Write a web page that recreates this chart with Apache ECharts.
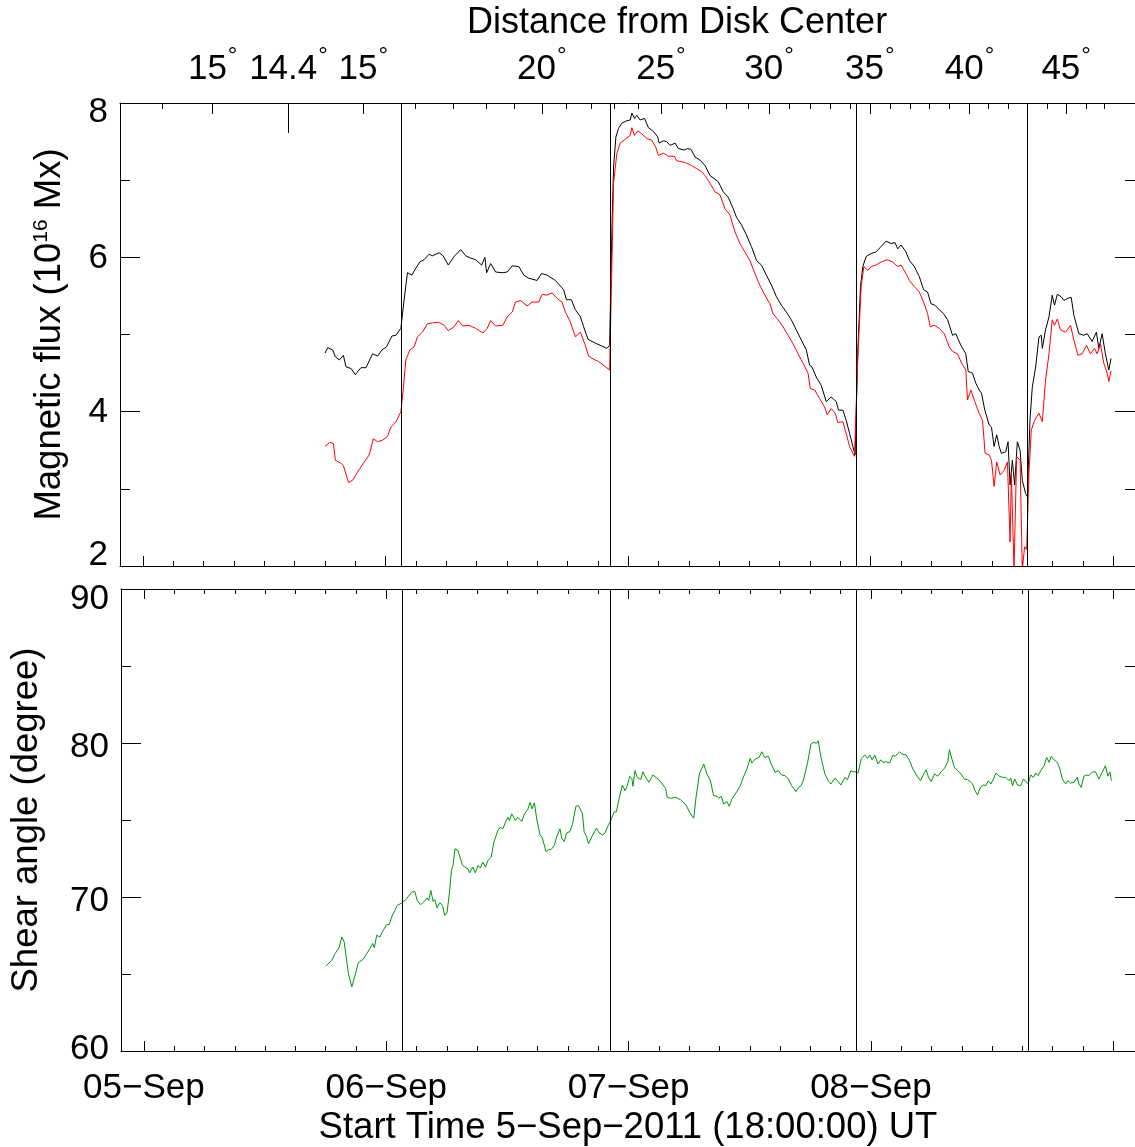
<!DOCTYPE html>
<html>
<head>
<meta charset="utf-8">
<script src="https://cdn.jsdelivr.net/npm/echarts@6/dist/echarts.min.js"></script>
<style>
  html, body { margin: 0; padding: 0; background: #fff; }
  #chart { width: 1135px; height: 1147px; }
</style>
</head>
<body>
<div id="chart"></div>
<script>
// hours counted from 2011-09-05 00:00 UT
const X_MIN = -2.27
const X_MAX = 98.15

const dayTickHours = [0, 24, 48, 72, 96]
const dayLabelHours = [0, 24, 48, 72]
const dayLabels = ['05−Sep', '06−Sep', '07−Sep', '08−Sep']
const minorHours = [3, 6, 9, 12, 15, 18, 21, 27, 30, 33, 36, 39, 42, 45, 51, 54, 57, 60, 63, 66, 69, 75, 78, 81, 84, 87, 90, 93]

// distance from disk center (top axis)
const degreeLabelHours = [6.9, 14.4, 21.8, 39.46, 51.25, 61.95, 71.91, 81.78, 91.34]
const degreeLabels = ['15', '14.4', '15', '20', '25', '30', '35', '40', '45']
const degreeMajorHours = [6.9, 21.8, 39.46, 51.25, 61.95, 71.91, 81.78, 91.34]
const degreeMinorHours = [1.87, 26.93, 30.68, 33.93, 36.7, 41.92, 44.39, 46.66, 48.98, 53.37, 55.54, 57.71, 59.88,
  63.92, 65.98, 67.96, 69.99, 73.94, 75.96, 77.83, 79.8, 83.65, 85.62, 87.53, 89.47, 93.32, 95.14]
const minimumHours = [14.4]

// flare times
const flareHours = [25.58, 46.2, 70.53, 87.53]

// total unsigned flux (black)
const blackHours = [18.02, 18.28, 18.77, 19.04, 19.43, 19.83, 20.09, 20.59, 21.01, 21.57, 22.07, 22.72, 23.21, 23.65, 24.10,
  24.63, 25.03, 25.52, 25.84, 26.17, 26.60, 27.00, 27.39, 27.82, 28.31, 28.64, 29.30, 29.69, 30.21, 30.78, 31.44, 31.93,
  32.42, 32.92, 33.51, 33.83, 34.00, 34.40, 34.89, 35.54, 36.04, 36.53, 37.19, 37.68, 38.17, 38.99, 39.43, 39.98, 40.81,
  41.63, 41.89, 42.39, 42.78, 43.28, 43.60, 44.03, 44.42, 44.91, 45.41, 45.90, 46.17,
  46.39, 46.56, 46.79, 47.05, 47.38, 47.87, 48.21, 48.37, 48.63, 48.86, 49.19, 49.62, 50.01, 50.51, 50.93, 51.07, 51.49,
  51.82, 52.15, 52.65, 52.97, 53.56, 53.89, 54.22, 54.62, 55.11, 55.61, 56.10, 56.52, 56.92, 57.41, 57.90, 58.40, 58.72,
  59.22, 59.71, 60.20, 60.70, 61.19, 61.68, 62.18, 62.67, 63.16, 63.66, 64.15, 64.64, 65.13, 65.63, 65.96, 66.19, 66.61,
  67.11, 67.60, 68.09, 68.59, 68.82, 69.25, 69.57, 69.91, 70.23, 70.46,
  70.73, 70.99, 71.22, 71.55, 72.04, 72.53, 73.03, 73.52, 74.01, 74.41, 74.67, 75.00, 75.49, 75.83, 76.32, 76.81, 77.24,
  77.63, 77.96, 78.35, 78.79, 79.21, 79.61, 80.10, 80.42, 80.92, 81.41, 81.65, 82.07, 82.40, 82.73, 82.96, 83.29, 83.72,
  83.95, 84.21, 84.47, 84.71, 84.93, 85.36, 85.59, 85.79, 86.02, 86.24, 86.51, 86.78, 87.00, 87.33, 87.50,
  87.76, 87.99, 88.32, 88.65, 88.88, 88.98, 89.30, 89.64, 89.96, 90.19, 90.46, 90.85, 91.12, 91.51, 91.84, 92.10, 92.60,
  93.09, 93.42, 93.91, 94.33, 94.57, 94.90, 95.22, 95.56, 95.78]
const blackFlux = [4.76, 4.83, 4.80, 4.71, 4.67, 4.73, 4.58, 4.56, 4.48, 4.57, 4.57, 4.75, 4.72, 4.80, 4.84,
  4.98, 4.99, 5.08, 5.45, 5.80, 5.77, 5.86, 5.94, 5.97, 6.04, 6.02, 6.06, 6.02, 5.90, 6.01, 6.10, 6.02,
  5.99, 5.97, 5.90, 6.00, 5.80, 5.92, 5.81, 5.80, 5.81, 5.89, 5.88, 5.77, 5.73, 5.70, 5.79, 5.77, 5.70,
  5.58, 5.45, 5.45, 5.32, 5.23, 5.10, 4.94, 4.91, 4.88, 4.85, 4.82, 4.86,
  6.31, 7.17, 7.56, 7.67, 7.74, 7.77, 7.78, 7.87, 7.80, 7.84, 7.78, 7.80, 7.68, 7.63, 7.56, 7.48, 7.51,
  7.50, 7.45, 7.48, 7.41, 7.39, 7.41, 7.40, 7.30, 7.26, 7.19, 7.06, 7.02, 6.98, 6.85, 6.78, 6.63, 6.52,
  6.42, 6.29, 6.14, 5.96, 5.90, 5.77, 5.64, 5.49, 5.38, 5.29, 5.19, 5.06, 4.93, 4.80, 4.60, 4.58, 4.45,
  4.34, 4.13, 4.19, 4.13, 4.02, 4.02, 3.89, 3.72, 3.55, 3.44,
  4.80, 5.62, 5.88, 6.01, 6.05, 6.07, 6.14, 6.21, 6.18, 6.19, 6.11, 6.16, 6.07, 5.96, 5.88, 5.75, 5.58,
  5.55, 5.40, 5.38, 5.32, 5.27, 5.19, 4.99, 5.01, 4.86, 4.75, 4.52, 4.50, 4.37, 4.28, 4.24, 4.02, 3.83,
  3.80, 3.55, 3.70, 3.55, 3.46, 3.48, 3.61, 3.05, 3.37, 3.05, 3.61, 3.50, 3.11, 2.94, 2.90,
  3.89, 4.32, 4.58, 4.97, 4.99, 4.82, 5.06, 5.23, 5.51, 5.38, 5.52, 5.49, 5.44, 5.47, 5.48, 5.25, 5.01,
  4.99, 5.01, 4.91, 5.03, 4.82, 5.01, 4.75, 4.54, 4.69]

// red curve
const redHours = [18.02, 18.45, 18.84, 19.04, 19.60, 19.83, 20.35, 20.81, 21.24, 21.80, 22.39, 22.79, 23.21, 23.70, 24.20,
  24.53, 25.03, 25.52, 25.75, 26.01, 26.41, 26.83, 27.16, 27.65, 28.14, 28.64, 29.23, 29.79, 30.21, 30.78, 31.20, 31.66,
  32.26, 32.92, 33.64, 34.06, 34.40, 34.89, 35.61, 36.04, 36.53, 36.86, 37.36, 38.01, 38.50, 39.16, 39.49, 39.98, 40.47,
  40.97, 41.46, 41.80, 42.29, 42.78, 43.28, 43.77, 44.09, 44.59, 45.08, 45.67, 46.17,
  46.39, 46.56, 46.89, 47.22, 47.71, 48.21, 48.37, 48.63, 48.96, 49.35, 49.85, 50.34, 50.73, 51.00, 51.49, 51.98, 52.58,
  52.81, 53.30, 53.79, 54.28, 54.78, 55.27, 55.61, 56.10, 56.59, 57.09, 57.58, 58.07, 58.57, 59.06, 59.55, 60.05, 60.54,
  61.03, 61.53, 62.02, 62.34, 62.84, 63.33, 63.82, 64.32, 64.81, 65.30, 65.80, 66.02, 66.46, 66.95, 67.44, 67.70, 68.09,
  68.49, 68.75, 69.25, 69.57, 69.91, 70.40,
  70.73, 71.06, 71.32, 71.72, 72.04, 72.53, 73.03, 73.62, 74.18, 74.67, 75.00, 75.49, 75.83, 76.32, 76.81, 77.24, 77.63,
  77.89, 78.29, 78.79, 79.28, 79.77, 80.10, 80.59, 80.99, 81.41, 81.58, 81.91, 82.30, 82.73, 83.06, 83.32, 83.72, 83.95,
  84.21, 84.47, 84.80, 85.20, 85.53, 85.79, 85.92, 86.18, 86.44, 86.78, 87.00, 87.23, 87.43,
  87.67, 87.89, 88.22, 88.65, 88.98, 89.30, 89.64, 89.96, 90.19, 90.46, 90.78, 91.28, 91.77, 92.10, 92.50, 92.92, 93.35,
  93.74, 94.14, 94.40, 94.73, 95.06, 95.39, 95.56, 95.78]
const redFlux = [3.55, 3.60, 3.59, 3.37, 3.33, 3.30, 3.08, 3.12, 3.22, 3.33, 3.44, 3.65, 3.61, 3.63, 3.68,
  3.80, 3.87, 4.00, 4.28, 4.67, 4.80, 4.84, 4.97, 5.03, 5.14, 5.15, 5.16, 5.12, 5.05, 5.10, 5.18, 5.11,
  5.12, 5.08, 5.02, 5.08, 5.18, 5.11, 5.12, 5.23, 5.29, 5.42, 5.44, 5.37, 5.42, 5.42, 5.52, 5.51, 5.54,
  5.47, 5.42, 5.29, 5.16, 4.97, 5.03, 4.86, 4.72, 4.68, 4.65, 4.59, 4.54,
  5.88, 6.96, 7.35, 7.48, 7.53, 7.58, 7.68, 7.58, 7.64, 7.60, 7.54, 7.52, 7.43, 7.32, 7.35, 7.31, 7.31,
  7.25, 7.24, 7.22, 7.19, 7.15, 7.11, 7.06, 6.96, 6.85, 6.81, 6.63, 6.55, 6.33, 6.18, 6.07, 5.96, 5.79,
  5.64, 5.51, 5.40, 5.27, 5.19, 5.10, 4.99, 4.88, 4.75, 4.63, 4.50, 4.30, 4.28, 4.17, 4.06, 3.96, 4.04,
  3.98, 3.86, 3.87, 3.72, 3.55, 3.42,
  4.72, 5.62, 5.88, 5.83, 5.88, 5.90, 5.94, 5.97, 5.94, 5.88, 5.90, 5.79, 5.70, 5.62, 5.55, 5.42, 5.27,
  5.10, 5.12, 5.08, 5.01, 4.84, 4.78, 4.75, 4.63, 4.54, 4.15, 4.28, 4.13, 3.98, 3.89, 3.46, 3.44, 3.37,
  3.03, 3.35, 3.18, 3.24, 3.35, 2.31, 3.20, 1.95, 3.42, 3.37, 1.95, 2.25, 2.21,
  3.24, 3.76, 3.89, 3.98, 3.87, 4.41, 4.75, 5.19, 5.12, 5.20, 5.06, 5.03, 5.12, 4.93, 4.73, 4.75, 4.86,
  4.75, 4.82, 4.75, 4.88, 4.63, 4.50, 4.39, 4.53]

// shear angle (green)
const shearHours = [18.05, 18.61, 18.94, 19.36, 19.60, 19.83, 20.25, 20.59, 20.91, 21.24, 21.73, 22.07, 22.39, 22.66, 22.82,
  23.05, 23.38, 23.70, 24.04, 24.30, 24.53, 24.86, 25.09, 25.28, 25.62, 26.01, 26.51, 26.83, 27.06, 27.39, 27.72, 28.04,
  28.21, 28.41, 28.64, 28.80, 29.03, 29.30, 29.56, 29.79, 30.02, 30.28, 30.45, 30.61, 30.81, 31.10, 31.27, 31.54, 31.76,
  32.09, 32.26, 32.58, 32.82, 33.08, 33.31, 33.57, 33.83, 34.06, 34.40, 34.65, 35.05, 35.28, 35.54, 35.81, 36.04, 36.20,
  36.43, 36.79, 37.02, 37.42, 37.68, 38.01, 38.24, 38.44, 38.67, 38.90, 39.23, 39.43, 39.82, 40.08, 40.32, 40.64, 40.87,
  41.20, 41.40, 41.63, 41.86, 42.19, 42.45, 42.78, 43.04, 43.43, 43.60, 43.83, 44.03, 44.26, 44.42, 44.81, 45.08, 45.41,
  45.67, 45.90, 46.23, 46.56, 46.79, 47.05, 47.38, 47.65, 47.87, 48.11, 48.31, 48.43, 48.63, 48.86, 49.19, 49.42, 49.69,
  50.01, 50.41, 50.60, 51.00, 51.33, 51.66, 51.82, 52.15, 52.65, 53.14, 53.69, 54.03, 54.45, 54.68, 55.01, 55.44, 55.76,
  56.10, 56.26, 56.42, 56.75, 56.92, 57.18, 57.41, 57.74, 57.97, 58.23, 58.72, 59.06, 59.29, 59.71, 60.05, 60.20, 60.54,
  60.93, 61.19, 61.46, 61.85, 62.12, 62.24, 62.51, 62.84, 63.16, 63.50, 63.82, 64.15, 64.58, 64.81, 65.08, 65.30, 65.47,
  65.73, 66.06, 66.29, 66.46, 66.61, 66.78, 67.05, 67.44, 67.77, 68.03, 68.43, 68.69, 69.02, 69.42, 69.67, 70.01, 70.23,
  70.46, 70.73, 71.05, 71.39, 71.65, 71.88, 72.11, 72.38, 72.70, 72.97, 73.19, 73.52, 73.85, 74.18, 74.41, 74.61, 74.84,
  75.07, 75.49, 75.83, 76.15, 76.32, 76.58, 76.91, 77.14, 77.47, 77.70, 77.96, 78.29, 78.62, 78.95, 79.28, 79.61, 79.77,
  80.00, 80.27, 80.59, 80.92, 81.25, 81.58, 81.84, 82.07, 82.30, 82.56, 82.83, 83.16, 83.38, 83.62, 83.88, 84.14, 84.37,
  84.71, 85.03, 85.36, 85.69, 85.85, 86.02, 86.24, 86.51, 86.84, 87.10, 87.33, 87.57, 87.82, 88.09, 88.32, 88.55, 88.81,
  89.14, 89.40, 89.64, 89.86, 90.13, 90.46, 90.72, 90.95, 91.28, 91.51, 91.77, 92.10, 92.43, 92.60, 92.82, 93.09, 93.35,
  93.58, 93.91, 94.24, 94.57, 94.90, 95.22, 95.46, 95.66, 95.81]
const shearAngle = [65.53, 65.89, 66.33, 66.76, 67.41, 67.09, 65.03, 64.17, 64.92, 65.74, 65.96, 66.33, 66.65, 66.98, 66.70,
  67.51, 67.41, 67.84, 68.21, 68.21, 68.70, 69.13, 69.46, 69.35, 69.63, 69.89, 70.32, 70.36, 69.78, 69.50, 69.68, 69.94,
  69.78, 70.43, 69.71, 69.84, 69.29, 69.63, 69.46, 68.81, 68.98, 70.43, 71.72, 72.05, 73.13, 73.02, 73.02, 72.09, 71.94,
  71.83, 71.57, 71.94, 71.57, 72.05, 71.88, 72.27, 71.94, 72.37, 72.59, 73.56, 74.31, 74.53, 74.42, 74.86, 75.18, 74.96,
  75.40, 74.96, 75.18, 74.90, 75.40, 75.67, 76.15, 75.72, 76.11, 75.07, 74.03, 73.89, 72.95, 73.08, 73.08, 73.34, 73.89,
  74.42, 73.78, 73.60, 74.16, 74.25, 74.75, 75.89, 75.93, 75.40, 74.21, 73.95, 73.45, 73.78, 73.67, 74.47, 74.16, 74.03,
  74.16, 74.53, 74.96, 75.51, 75.54, 76.37, 77.27, 76.90, 77.23, 77.84, 77.71, 77.19, 78.20, 77.77, 77.62, 78.13, 77.77,
  77.45, 77.92, 77.92, 77.62, 77.34, 77.06, 76.48, 76.41, 76.48, 76.32, 75.98, 75.51, 75.12, 76.48, 77.99, 78.63, 77.99,
  77.55, 77.49, 76.58, 76.54, 76.41, 76.54, 76.04, 76.19, 75.89, 76.37, 76.84, 77.23, 77.66, 78.31, 79.00, 78.70, 78.96,
  79.07, 79.43, 79.07, 79.13, 78.63, 78.74, 78.10, 78.20, 77.92, 77.88, 77.66, 77.23, 76.84, 77.12, 77.23, 77.55, 77.55,
  78.74, 79.93, 80.04, 80.14, 79.99, 80.14, 79.07, 77.99, 77.55, 77.34, 77.71, 77.55, 77.27, 77.77, 77.62, 78.20, 78.13,
  78.13, 78.05, 79.00, 79.22, 79.00, 79.22, 78.91, 79.22, 78.63, 78.91, 78.74, 78.78, 78.70, 79.22, 79.13, 79.28, 79.43,
  79.28, 79.22, 78.85, 78.31, 78.42, 77.84, 77.55, 77.88, 78.26, 77.77, 77.49, 77.99, 77.84, 78.13, 78.35, 78.78, 79.56,
  79.00, 78.42, 78.20, 77.99, 77.66, 77.62, 77.49, 77.34, 76.90, 76.63, 77.12, 77.27, 77.23, 77.55, 77.34, 77.66, 78.05,
  77.84, 77.77, 77.77, 77.55, 77.71, 77.23, 77.66, 77.27, 77.23, 77.66, 77.49, 77.34, 77.92, 77.77, 78.05, 77.88, 78.20,
  78.52, 79.07, 78.74, 79.13, 78.91, 78.74, 78.31, 77.66, 77.34, 77.55, 77.40, 77.45, 77.77, 77.34, 77.12, 77.84, 77.92,
  77.88, 78.10, 78.13, 77.66, 78.10, 78.52, 77.84, 78.13, 77.55]

const FONT = '"Liberation Sans", Arial, Helvetica, sans-serif'
const INK = '#000'

function pairs (xs, ys) {
  return xs.map((x, i) => [x, ys[i]])
}

// one x axis on a grid; ticks only where asked
function timeAxis (gridIndex, position, tickValues, tickLength, extra) {
  return Object.assign({
    type: 'value',
    gridIndex,
    position,
    min: X_MIN,
    max: X_MAX,
    axisLine: { show: false, onZero: false, lineStyle: { color: INK, width: 1 } },
    axisTick: {
      show: true,
      inside: true,
      length: tickLength,
      customValues: tickValues,
      lineStyle: { color: INK, width: 1 }
    },
    axisLabel: { show: false },
    splitLine: { show: false }
  }, extra || {})
}

function valueAxis (gridIndex, position, min, max, interval, extra) {
  return Object.assign({
    type: 'value',
    gridIndex,
    position,
    min,
    max,
    interval,
    axisLine: { show: true, onZero: false, lineStyle: { color: INK, width: 1 } },
    axisTick: { show: true, inside: true, length: 20, lineStyle: { color: INK, width: 1 } },
    minorTick: { show: true, splitNumber: 2, length: 10, lineStyle: { color: INK, width: 1 } },
    axisLabel: { show: false },
    splitLine: { show: false },
    minorSplitLine: { show: false }
  }, extra || {})
}

// left labels: the end labels sit a little inside the frame
function sideLabels (top, bottom, shifts) {
  const rich = {}
  Object.keys(shifts).forEach((k) => {
    rich[k] = { fontSize: 35, fontFamily: FONT, color: INK, padding: shifts[k] }
  })
  return {
    show: true,
    margin: 12,
    fontSize: 35,
    fontFamily: FONT,
    color: INK,
    formatter: (v) => (v === top ? '{hi|' + v + '}' : v === bottom ? '{lo|' + v + '}' : '{mid|' + v + '}'),
    rich
  }
}

const flareMarks = {
  silent: true,
  symbol: ['none', 'none'],
  label: { show: false },
  lineStyle: { color: INK, width: 1, type: 'solid' },
  emphasis: { disabled: true },
  data: flareHours.map((h) => ({ xAxis: h }))
}

const frameLine = { show: true, onZero: false, lineStyle: { color: INK, width: 1 } }

const option = {
  animation: false,
  backgroundColor: '#fff',
  title: {
    text: 'Distance from Disk Center',
    left: 462,
    top: 0,
    textStyle: { fontSize: 36, fontWeight: 'normal', fontFamily: FONT, color: INK }
  },
  grid: [
    { left: 120, top: 103, width: 1018, height: 463 },
    { left: 120, top: 589, width: 1018, height: 463 }
  ],
  xAxis: [
    timeAxis(0, 'bottom', dayTickHours, 10, { axisLine: frameLine }),
    timeAxis(0, 'bottom', minorHours, 5),
    timeAxis(0, 'top', degreeMajorHours, 11, {
      axisLine: frameLine,
      axisLabel: {
        show: true,
        customValues: degreeLabelHours,
        margin: 24,
        fontSize: 35,
        fontFamily: FONT,
        color: INK,
        formatter: (v) => '{n|' + degreeLabels[degreeLabelHours.indexOf(v)] + '}{d|°}',
        rich: {
          n: { fontSize: 35, lineHeight: 35, fontFamily: FONT, color: INK, padding: [15, 0, 0, 0] },
          d: { fontSize: 24, lineHeight: 24, fontFamily: FONT, color: INK, verticalAlign: 'top', padding: [0, 0, 0, 1] }
        }
      }
    }),
    timeAxis(0, 'top', degreeMinorHours, 6),
    timeAxis(0, 'top', minimumHours, 30),
    timeAxis(1, 'bottom', dayTickHours, 10, {
      axisLine: frameLine,
      axisLabel: {
        show: true,
        customValues: dayLabelHours,
        margin: 20,
        fontSize: 35,
        fontFamily: FONT,
        color: INK,
        formatter: (v) => dayLabels[dayLabelHours.indexOf(v)]
      },
      name: 'Start Time 5−Sep−2011 (18:00:00) UT',
      nameLocation: 'middle',
      nameGap: 58,
      nameTextStyle: { fontSize: 36.5, fontFamily: FONT, color: INK }
    }),
    timeAxis(1, 'bottom', minorHours, 5),
    timeAxis(1, 'top', dayTickHours, 10, { axisLine: frameLine }),
    timeAxis(1, 'top', minorHours, 5)
  ],
  yAxis: [
    valueAxis(0, 'left', 2, 8, 2, {
      name: 'Magnetic flux (10{sup|16} Mx)',
      nameLocation: 'middle',
      nameGap: 52,
      nameTextStyle: {
        fontSize: 36.5,
        fontFamily: FONT,
        color: INK,
        rich: { sup: { fontSize: 21, fontFamily: FONT, color: INK, verticalAlign: 'top' } }
      },
      axisLabel: sideLabels(8, 2, { hi: [18, 0, 0, 0], lo: [0, 0, 22, 0], mid: [2, 0, 0, 0] })
    }),
    valueAxis(0, 'right', 2, 8, 2),
    valueAxis(1, 'left', 60, 90, 10, {
      name: 'Shear angle (degree)',
      nameLocation: 'middle',
      nameGap: 76,
      nameTextStyle: { fontSize: 36.5, fontFamily: FONT, color: INK },
      axisLabel: sideLabels(90, 60, { hi: [20, 0, 0, 0], lo: [0, 0, 4, 0], mid: [8, 0, 0, 0] })
    }),
    valueAxis(1, 'right', 60, 90, 10)
  ],
  series: [
    {
      name: 'black',
      type: 'line',
      xAxisIndex: 0,
      yAxisIndex: 0,
      data: pairs(blackHours, blackFlux),
      showSymbol: false,
      lineStyle: { color: '#000', width: 1 },
      itemStyle: { color: '#000' },
      markLine: flareMarks
    },
    {
      name: 'red',
      type: 'line',
      xAxisIndex: 0,
      yAxisIndex: 0,
      data: pairs(redHours, redFlux),
      showSymbol: false,
      lineStyle: { color: '#ff0000', width: 1 },
      itemStyle: { color: '#ff0000' }
    },
    {
      name: 'shear',
      type: 'line',
      xAxisIndex: 5,
      yAxisIndex: 2,
      data: pairs(shearHours, shearAngle),
      showSymbol: false,
      lineStyle: { color: '#00960a', width: 1 },
      itemStyle: { color: '#00960a' },
      markLine: flareMarks
    }
  ]
}

const chart = echarts.init(document.getElementById('chart'), null, { renderer: 'canvas' })
chart.setOption(option)
</script>
</body>
</html>
